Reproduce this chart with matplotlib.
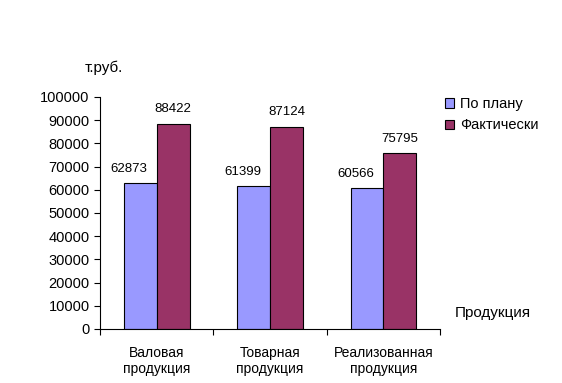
import numpy as np
import matplotlib.pyplot as plt

plt.rcParams['font.family'] = ['Liberation Sans', 'DejaVu Sans']

categories = ['Валовая\nпродукция', 'Товарная\nпродукция', 'Реализованная\nпродукция']
plan = [62873, 61399, 60566]
fact = [88422, 87124, 75795]
series_names = ['По плану', 'Фактически']

fig = plt.figure(figsize=(5.62, 3.83), dpi=100)
ax = fig.add_axes([0.178, 0.141, 0.605, 0.606])

x = np.arange(len(categories))
w = 0.29
b1 = ax.bar(x - w / 2, plan, w, color='#9999FF', edgecolor='black', linewidth=0.8, label=series_names[0])
b2 = ax.bar(x + w / 2, fact, w, color='#993366', edgecolor='black', linewidth=0.8, label=series_names[1])

# labels of the first series sit a bit to the left, as in the original
for bars, vals, dx in [(b1, plan, -8), (b2, fact, 0)]:
    for r, v in zip(bars, vals):
        ax.annotate(str(v), (r.get_x() + r.get_width() / 2, v), xytext=(dx, 6),
                    textcoords='offset points', ha='center', va='bottom', fontsize=9.5)

ax.set_xlim(-0.5, 2.5)
ax.set_ylim(0, 100000)
ax.set_yticks(np.arange(0, 100001, 10000))
ax.tick_params(axis='y', labelsize=10.5, length=4, width=0.8)
ax.set_xticks([-0.5, 0.5, 1.5, 2.5])
ax.set_xticklabels([])
ax.set_xticks(x, minor=True)
ax.set_xticklabels(categories, minor=True, fontsize=10)
ax.tick_params(axis='x', which='minor', length=0, pad=12)
ax.tick_params(axis='x', which='major', length=4, width=0.8)
for s in ['top', 'right']:
    ax.spines[s].set_visible(False)

fig.text(85 / 562, 1 - 68 / 383, 'т.руб.', fontsize=11, ha='left', va='center')
fig.text(455 / 562, 1 - 313 / 383, 'Продукция', fontsize=11, ha='left', va='center')

fig.legend(loc='upper left', bbox_to_anchor=(432 / 562, 1 - 84 / 383), frameon=False,
           fontsize=10.5, handlelength=0.6, handleheight=0.6, handletextpad=0.4, labelspacing=0.5)

fig.savefig('out.png', dpi=100)
